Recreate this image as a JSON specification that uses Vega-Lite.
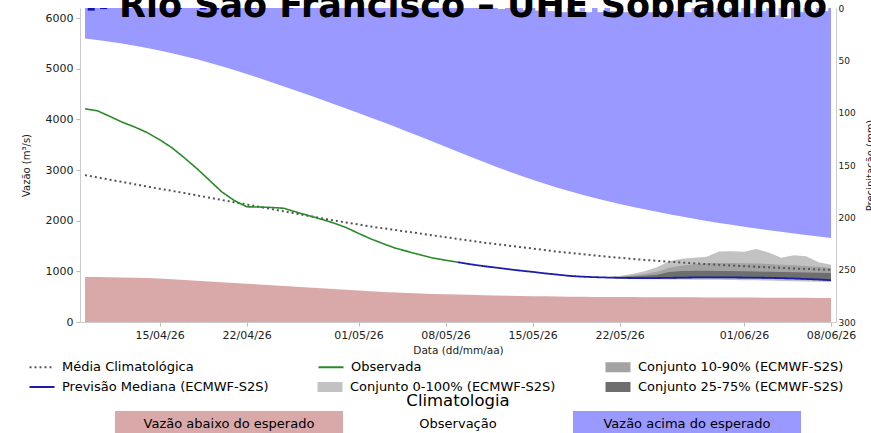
{
  "$schema": "https://vega.github.io/schema/vega-lite/v6.json",
  "width": 756,
  "height": 314,
  "autosize": {"type": "none"},
  "padding": {"left": 80, "top": 8, "right": 35, "bottom": 111},
  "background": "white",
  "title": {"text": "Rio São Francisco – UHE Sobradinho", "fontSize": 35, "fontWeight": "bold", "font": "DejaVu Sans", "color": "black", "anchor": "middle", "frame": "group", "offset": 0, "dy": 20, "dx": 15},
  "datasets": {
    "flow": [
      {"date": "2026-04-09", "acima": 5600, "abaixo": 890, "clim": 2900, "obs": 4210},
      {"date": "2026-04-10", "acima": 5570, "abaixo": 888, "clim": 2855, "obs": 4170},
      {"date": "2026-04-11", "acima": 5536, "abaixo": 885, "clim": 2810, "obs": 4060},
      {"date": "2026-04-12", "acima": 5498, "abaixo": 880, "clim": 2765, "obs": 3945},
      {"date": "2026-04-13", "acima": 5456, "abaixo": 875, "clim": 2720, "obs": 3850},
      {"date": "2026-04-14", "acima": 5410, "abaixo": 868, "clim": 2675, "obs": 3740},
      {"date": "2026-04-15", "acima": 5360, "abaixo": 860, "clim": 2630, "obs": 3600},
      {"date": "2026-04-16", "acima": 5306, "abaixo": 845, "clim": 2590, "obs": 3440},
      {"date": "2026-04-17", "acima": 5248, "abaixo": 830, "clim": 2545, "obs": 3240},
      {"date": "2026-04-18", "acima": 5186, "abaixo": 815, "clim": 2500, "obs": 3030},
      {"date": "2026-04-19", "acima": 5120, "abaixo": 800, "clim": 2455, "obs": 2800},
      {"date": "2026-04-20", "acima": 5050, "abaixo": 785, "clim": 2410, "obs": 2570},
      {"date": "2026-04-21", "acima": 4976, "abaixo": 770, "clim": 2365, "obs": 2400},
      {"date": "2026-04-22", "acima": 4898, "abaixo": 755, "clim": 2320, "obs": 2275},
      {"date": "2026-04-23", "acima": 4818, "abaixo": 740, "clim": 2275, "obs": 2270},
      {"date": "2026-04-24", "acima": 4736, "abaixo": 725, "clim": 2230, "obs": 2262},
      {"date": "2026-04-25", "acima": 4652, "abaixo": 710, "clim": 2185, "obs": 2245},
      {"date": "2026-04-26", "acima": 4566, "abaixo": 695, "clim": 2140, "obs": 2170},
      {"date": "2026-04-27", "acima": 4480, "abaixo": 680, "clim": 2095, "obs": 2100},
      {"date": "2026-04-28", "acima": 4393, "abaixo": 665, "clim": 2050, "obs": 2030},
      {"date": "2026-04-29", "acima": 4305, "abaixo": 650, "clim": 2005, "obs": 1955},
      {"date": "2026-04-30", "acima": 4216, "abaixo": 635, "clim": 1965, "obs": 1865},
      {"date": "2026-05-01", "acima": 4126, "abaixo": 620, "clim": 1925, "obs": 1750},
      {"date": "2026-05-02", "acima": 4035, "abaixo": 605, "clim": 1885, "obs": 1640},
      {"date": "2026-05-03", "acima": 3943, "abaixo": 592, "clim": 1850, "obs": 1545},
      {"date": "2026-05-04", "acima": 3849, "abaixo": 582, "clim": 1815, "obs": 1455},
      {"date": "2026-05-05", "acima": 3753, "abaixo": 572, "clim": 1780, "obs": 1390},
      {"date": "2026-05-06", "acima": 3656, "abaixo": 563, "clim": 1745, "obs": 1325},
      {"date": "2026-05-07", "acima": 3558, "abaixo": 555, "clim": 1710, "obs": 1263},
      {"date": "2026-05-08", "acima": 3460, "abaixo": 548, "clim": 1675, "obs": 1220},
      {"date": "2026-05-09", "acima": 3362, "abaixo": 542, "clim": 1640, "obs": 1180, "prev": 1180},
      {"date": "2026-05-10", "acima": 3264, "abaixo": 536, "clim": 1605, "prev": 1140},
      {"date": "2026-05-11", "acima": 3167, "abaixo": 530, "clim": 1570, "prev": 1105},
      {"date": "2026-05-12", "acima": 3072, "abaixo": 525, "clim": 1540, "prev": 1075},
      {"date": "2026-05-13", "acima": 2980, "abaixo": 520, "clim": 1510, "prev": 1045},
      {"date": "2026-05-14", "acima": 2892, "abaixo": 515, "clim": 1480, "prev": 1015},
      {"date": "2026-05-15", "acima": 2808, "abaixo": 510, "clim": 1450, "prev": 990},
      {"date": "2026-05-16", "acima": 2728, "abaixo": 506, "clim": 1420, "prev": 960},
      {"date": "2026-05-17", "acima": 2652, "abaixo": 502, "clim": 1390, "prev": 935},
      {"date": "2026-05-18", "acima": 2580, "abaixo": 499, "clim": 1365, "prev": 910},
      {"date": "2026-05-19", "acima": 2512, "abaixo": 497, "clim": 1340, "prev": 895},
      {"date": "2026-05-20", "acima": 2448, "abaixo": 495, "clim": 1315, "prev": 885},
      {"date": "2026-05-21", "acima": 2388, "abaixo": 494, "clim": 1290, "prev": 878, "p0": 870, "p10": 874, "p25": 876, "p75": 880, "p90": 882, "p100": 885},
      {"date": "2026-05-22", "acima": 2331, "abaixo": 493, "clim": 1268, "prev": 872, "p0": 860, "p10": 866, "p25": 869, "p75": 890, "p90": 900, "p100": 910},
      {"date": "2026-05-23", "acima": 2277, "abaixo": 492, "clim": 1246, "prev": 868, "p0": 850, "p10": 858, "p25": 862, "p75": 900, "p90": 920, "p100": 950},
      {"date": "2026-05-24", "acima": 2226, "abaixo": 491, "clim": 1226, "prev": 866, "p0": 845, "p10": 855, "p25": 860, "p75": 915, "p90": 950, "p100": 1000},
      {"date": "2026-05-25", "acima": 2176, "abaixo": 490, "clim": 1208, "prev": 868, "p0": 842, "p10": 852, "p25": 860, "p75": 935, "p90": 990, "p100": 1080},
      {"date": "2026-05-26", "acima": 2128, "abaixo": 489, "clim": 1190, "prev": 872, "p0": 840, "p10": 855, "p25": 862, "p75": 985, "p90": 1070, "p100": 1200},
      {"date": "2026-05-27", "acima": 2082, "abaixo": 488, "clim": 1174, "prev": 876, "p0": 838, "p10": 858, "p25": 866, "p75": 1005, "p90": 1115, "p100": 1250},
      {"date": "2026-05-28", "acima": 2038, "abaixo": 487, "clim": 1158, "prev": 880, "p0": 836, "p10": 860, "p25": 870, "p75": 1010, "p90": 1140, "p100": 1270},
      {"date": "2026-05-29", "acima": 1996, "abaixo": 486, "clim": 1143, "prev": 882, "p0": 834, "p10": 862, "p25": 872, "p75": 1010, "p90": 1160, "p100": 1290},
      {"date": "2026-05-30", "acima": 1956, "abaixo": 485, "clim": 1129, "prev": 882, "p0": 832, "p10": 860, "p25": 872, "p75": 1008, "p90": 1165, "p100": 1390},
      {"date": "2026-05-31", "acima": 1918, "abaixo": 484, "clim": 1116, "prev": 880, "p0": 830, "p10": 858, "p25": 870, "p75": 1005, "p90": 1165, "p100": 1395},
      {"date": "2026-06-01", "acima": 1882, "abaixo": 483, "clim": 1103, "prev": 878, "p0": 826, "p10": 856, "p25": 868, "p75": 1000, "p90": 1160, "p100": 1385},
      {"date": "2026-06-02", "acima": 1847, "abaixo": 482, "clim": 1091, "prev": 876, "p0": 822, "p10": 852, "p25": 866, "p75": 995, "p90": 1155, "p100": 1440},
      {"date": "2026-06-03", "acima": 1813, "abaixo": 480, "clim": 1079, "prev": 872, "p0": 818, "p10": 848, "p25": 862, "p75": 992, "p90": 1145, "p100": 1370},
      {"date": "2026-06-04", "acima": 1780, "abaixo": 479, "clim": 1068, "prev": 866, "p0": 812, "p10": 842, "p25": 856, "p75": 988, "p90": 1130, "p100": 1270},
      {"date": "2026-06-05", "acima": 1748, "abaixo": 478, "clim": 1057, "prev": 860, "p0": 806, "p10": 836, "p25": 850, "p75": 984, "p90": 1120, "p100": 1320},
      {"date": "2026-06-06", "acima": 1717, "abaixo": 477, "clim": 1047, "prev": 850, "p0": 800, "p10": 828, "p25": 842, "p75": 978, "p90": 1105, "p100": 1300},
      {"date": "2026-06-07", "acima": 1687, "abaixo": 476, "clim": 1038, "prev": 840, "p0": 795, "p10": 820, "p25": 832, "p75": 972, "p90": 1090, "p100": 1180},
      {"date": "2026-06-08", "acima": 1657, "abaixo": 474, "clim": 1030, "prev": 825, "p0": 790, "p10": 808, "p25": 818, "p75": 967, "p90": 1066, "p100": 1130}
    ],
    "precip": [
      {"date": "2026-04-09T12:00:00Z", "tipo": "obs", "p": 2.5},
      {"date": "2026-04-10T12:00:00Z", "tipo": "obs", "p": 1},
      {"date": "2026-04-16T12:00:00Z", "tipo": "obs", "p": 1},
      {"date": "2026-04-18T12:00:00Z", "tipo": "obs", "p": 1.5},
      {"date": "2026-04-19T12:00:00Z", "tipo": "obs", "p": 1.5},
      {"date": "2026-04-22T12:00:00Z", "tipo": "obs", "p": 0.5},
      {"date": "2026-04-25T12:00:00Z", "tipo": "obs", "p": 0.5},
      {"date": "2026-05-12T12:00:00Z", "tipo": "prev", "p": 1},
      {"date": "2026-05-14T12:00:00Z", "tipo": "prev", "p": 2},
      {"date": "2026-05-15T12:00:00Z", "tipo": "prev", "p": 2.5},
      {"date": "2026-05-16T12:00:00Z", "tipo": "prev", "p": 3},
      {"date": "2026-05-17T12:00:00Z", "tipo": "prev", "p": 4},
      {"date": "2026-05-18T12:00:00Z", "tipo": "prev", "p": 3},
      {"date": "2026-05-19T12:00:00Z", "tipo": "prev", "p": 4},
      {"date": "2026-05-20T12:00:00Z", "tipo": "prev", "p": 4},
      {"date": "2026-05-21T12:00:00Z", "tipo": "prev", "p": 3},
      {"date": "2026-05-22T12:00:00Z", "tipo": "prev", "p": 4},
      {"date": "2026-05-23T12:00:00Z", "tipo": "prev", "p": 4},
      {"date": "2026-05-24T12:00:00Z", "tipo": "prev", "p": 4},
      {"date": "2026-05-25T12:00:00Z", "tipo": "prev", "p": 4},
      {"date": "2026-05-26T12:00:00Z", "tipo": "prev", "p": 3},
      {"date": "2026-05-27T12:00:00Z", "tipo": "prev", "p": 4},
      {"date": "2026-05-28T12:00:00Z", "tipo": "prev", "p": 4},
      {"date": "2026-05-29T12:00:00Z", "tipo": "prev", "p": 4},
      {"date": "2026-05-30T12:00:00Z", "tipo": "prev", "p": 4},
      {"date": "2026-05-31T12:00:00Z", "tipo": "prev", "p": 4},
      {"date": "2026-06-01T12:00:00Z", "tipo": "prev", "p": 5},
      {"date": "2026-06-02T12:00:00Z", "tipo": "prev", "p": 3},
      {"date": "2026-06-03T12:00:00Z", "tipo": "prev", "p": 7},
      {"date": "2026-06-04T12:00:00Z", "tipo": "prev", "p": 10},
      {"date": "2026-06-05T12:00:00Z", "tipo": "prev", "p": 4},
      {"date": "2026-06-06T12:00:00Z", "tipo": "prev", "p": 4},
      {"date": "2026-06-07T12:00:00Z", "tipo": "prev", "p": 3}
    ]
  },
  "encoding": {
    "x": {
      "field": "date", "type": "temporal",
      "scale": {"type": "utc", "domain": [{"year": 2026, "month": 4, "date": 9, "utc": true}, {"year": 2026, "month": 6, "date": 8, "utc": true}]},
      "axis": {
        "title": "Data (dd/mm/aa)",
        "format": "%d/%m/%y",
        "values": [
          {"year": 2026, "month": 4, "date": 15, "utc": true},
          {"year": 2026, "month": 4, "date": 22, "utc": true},
          {"year": 2026, "month": 5, "date": 1, "utc": true},
          {"year": 2026, "month": 5, "date": 8, "utc": true},
          {"year": 2026, "month": 5, "date": 15, "utc": true},
          {"year": 2026, "month": 5, "date": 22, "utc": true},
          {"year": 2026, "month": 6, "date": 1, "utc": true},
          {"year": 2026, "month": 6, "date": 8, "utc": true}
        ],
        "labelFontSize": 11, "titleFontSize": 10.5, "labelPadding": 3, "titlePadding": 5, "tickSize": 4
      }
    }
  },
  "layer": [
    {
      "data": {"name": "flow"},
      "layer": [
        {
          "mark": {"type": "area", "opacity": 0.8, "clip": true},
          "encoding": {
            "y": {"field": "acima", "type": "quantitative", "title": "Vazão (m³/s)",
              "scale": {"domain": [0, 6200], "nice": false},
              "axis": {"values": [0, 1000, 2000, 3000, 4000, 5000, 6000], "format": "d", "labelFontSize": 11, "titleFontSize": 10, "titlePadding": 14, "tickSize": 4, "labelPadding": 3}},
            "y2": {"datum": 6200},
            "color": {"datum": "Vazão acima do esperado", "type": "nominal",
              "scale": {"domain": ["Vazão abaixo do esperado", "Observação", "Vazão acima do esperado"], "range": ["#d09494", "#ffffff", "#8080ff"]},
              "legend": {
                "orient": "none", "legendX": 35, "legendY": 384.5, "columns": 3, "columnPadding": 0, "rowPadding": 0, "padding": 0,
                "title": "Climatologia", "titleFontSize": 16.5, "titleFontWeight": "normal", "titleAnchor": "middle", "titleColor": "black", "titlePadding": 2,
                "symbolType": "M-1,-1H16.54V1H-1Z", "symbolSize": 676, "symbolStrokeWidth": 0, "symbolOpacity": 1,
                "labelFontSize": 13, "labelColor": "black", "labelAlign": "center", "labelOffset": 88, "labelLimit": 300
              }}
          }
        },
        {
          "mark": {"type": "area", "opacity": 0.8, "clip": true},
          "encoding": {
            "y": {"field": "abaixo", "type": "quantitative", "title": "Vazão (m³/s)"},
            "color": {"datum": "Vazão abaixo do esperado", "type": "nominal"}
          }
        },
        {
          "mark": {"type": "area", "opacity": 1, "clip": true},
          "encoding": {
            "y": {"field": "p0", "type": "quantitative", "title": "Vazão (m³/s)"},
            "y2": {"field": "p100"},
            "fill": {"datum": "Conjunto 0-100% (ECMWF-S2S)", "type": "nominal",
              "scale": {"domain": [" ", "Conjunto 0-100% (ECMWF-S2S)", "Conjunto 10-90% (ECMWF-S2S)", "Conjunto 25-75% (ECMWF-S2S)"],
                        "range": ["rgba(255,255,255,0)", "#c2c2c2", "#a3a3a3", "#6e6e6e"]},
              "legend": {
                "orient": "none", "legendX": 243.5, "legendY": 352.5, "columns": 2, "title": null, "padding": 0,
                "columnPadding": 50, "rowPadding": 6, "gridAlign": "all",
                "symbolType": "M-2.5,-1H2.5V1H-2.5Z", "symbolSize": 100, "symbolStrokeWidth": 0, "symbolOpacity": 1,
                "labelFontSize": 13, "labelColor": "black", "labelOffset": 13.5, "labelLimit": 300
              }}
          }
        },
        {
          "mark": {"type": "area", "opacity": 1, "clip": true},
          "encoding": {
            "y": {"field": "p10", "type": "quantitative", "title": "Vazão (m³/s)"},
            "y2": {"field": "p90"},
            "fill": {"datum": "Conjunto 10-90% (ECMWF-S2S)", "type": "nominal"}
          }
        },
        {
          "mark": {"type": "area", "opacity": 1, "clip": true},
          "encoding": {
            "y": {"field": "p25", "type": "quantitative", "title": "Vazão (m³/s)"},
            "y2": {"field": "p75"},
            "fill": {"datum": "Conjunto 25-75% (ECMWF-S2S)", "type": "nominal"}
          }
        },
        {
          "mark": {"type": "line", "strokeWidth": 2, "clip": true},
          "encoding": {
            "y": {"field": "clim", "type": "quantitative", "title": "Vazão (m³/s)"},
            "stroke": {"datum": "Média Climatológica", "type": "nominal",
              "scale": {"domain": ["Média Climatológica", "Previsão Mediana (ECMWF-S2S)", "Observada"], "range": ["#555555", "#1c1caa", "#2a8a2a"]},
              "legend": {
                "orient": "none", "legendX": -44.5, "legendY": 352.5, "columns": 2, "title": null, "padding": 0,
                "columnPadding": 45, "rowPadding": 6, "gridAlign": "all",
                "symbolType": "M-2.5,0H2.5", "symbolSize": 100, "symbolStrokeWidth": 1.8, "symbolOpacity": 1,
                "labelFontSize": 13, "labelColor": "black", "labelOffset": 13.5, "labelLimit": 300
              }},
            "strokeDash": {"datum": "Média Climatológica", "type": "nominal",
              "scale": {"domain": ["Média Climatológica", "Previsão Mediana (ECMWF-S2S)", "Observada"], "range": [[2, 3], [1, 0], [1, 0]]}}
          }
        },
        {
          "mark": {"type": "line", "strokeWidth": 1.6, "clip": true},
          "encoding": {
            "y": {"field": "obs", "type": "quantitative", "title": "Vazão (m³/s)"},
            "stroke": {"datum": "Observada", "type": "nominal"},
            "strokeDash": {"datum": "Observada", "type": "nominal"}
          }
        },
        {
          "mark": {"type": "line", "strokeWidth": 1.8, "clip": true},
          "encoding": {
            "y": {"field": "prev", "type": "quantitative", "title": "Vazão (m³/s)"},
            "stroke": {"datum": "Previsão Mediana (ECMWF-S2S)", "type": "nominal"},
            "strokeDash": {"datum": "Previsão Mediana (ECMWF-S2S)", "type": "nominal"}
          }
        }
      ]
    },
    {
      "data": {"name": "precip"},
      "layer": [
        {
          "transform": [{"filter": "datum.tipo == 'obs'"}],
          "mark": {"type": "bar", "width": 7, "color": "#1010c0", "clip": true},
          "encoding": {
            "y": {"field": "p", "type": "quantitative", "title": "Precipitação (mm)",
              "scale": {"domain": [0, 300], "reverse": true, "nice": false},
              "axis": {"orient": "right", "values": [0, 50, 100, 150, 200, 250, 300], "labelFontSize": 9, "titleFontSize": 10, "titleAngle": 270, "tickSize": 0, "labelPadding": 2, "titlePadding": 20}}
          }
        },
        {
          "transform": [{"filter": "datum.tipo == 'prev'"}],
          "mark": {"type": "bar", "width": 7, "color": "#ffffff", "clip": true},
          "encoding": {
            "y": {"field": "p", "type": "quantitative", "title": "Precipitação (mm)"}
          }
        }
      ]
    }
  ],
  "resolve": {"scale": {"y": "independent"}},
  "config": {
    "font": "DejaVu Sans",
    "view": {"stroke": null},
    "axis": {"grid": false, "domainColor": "#cccccc", "tickColor": "#bbbbbb", "labelColor": "#222222", "titleColor": "#222222", "titleFontWeight": "normal", "labelFont": "DejaVu Sans", "titleFont": "DejaVu Sans"},
    "legend": {"labelFont": "DejaVu Sans", "titleFont": "DejaVu Sans"}
  }
}
